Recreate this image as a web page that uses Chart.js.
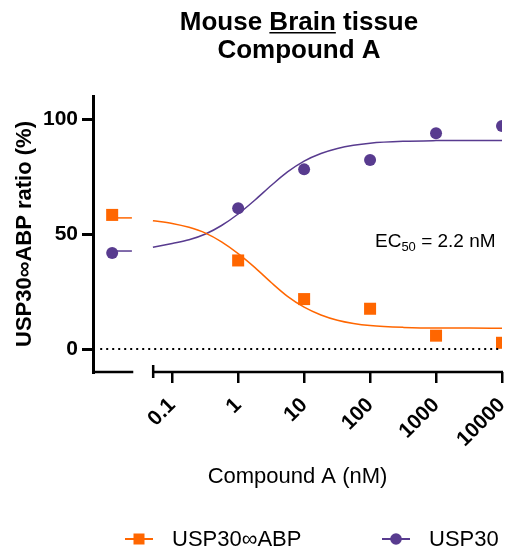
<!DOCTYPE html>
<html>
<head>
<meta charset="utf-8">
<script src="https://cdn.jsdelivr.net/npm/chart.js@4"></script>
<style>
body { margin: 0; background: #fff; }
#wrap { width: 512px; height: 547px; }
</style>
</head>
<body>
<div id="wrap"><canvas id="chart" width="512" height="547"></canvas></div>
<script>
// Compound A concentrations (nM) and measured ratios (%)
const concentrations = [1, 10, 100, 1000, 10000];
const abpValues = [38.5, 21.7, 17.5, 5.8, 2.7];
const usp30Values = [61.2, 78.1, 82.2, 93.8, 97.0];

// vehicle control, shown on the separate left piece of the axis
const abpControl = 58.3;
const usp30Control = 41.7;
const abpControlFit = 57.0;
const usp30ControlFit = 42.6;

// fitted curves
const fitConc = [0.051, 0.1, 0.18, 0.32, 0.56, 1, 1.8, 3.2, 5.6, 10, 18, 32, 56, 100, 320, 1000, 3200, 10000];
const abpFit = [55.8, 54.6, 52.9, 50.4, 46.6, 41.5, 35.4, 28.8, 22.9, 18.2, 14.8, 12.5, 11.1, 10.2, 9.4, 9.1, 9.1, 9.0];
const usp30Fit = [44.2, 45.9, 47.5, 50.0, 53.7, 58.7, 64.8, 71.2, 77.0, 81.7, 85.0, 87.2, 88.6, 89.5, 90.3, 90.6, 90.7, 90.7];

const xTicks = [0.1, 1, 10, 100, 1000, 10000];
const yTicks = [0, 50, 100];
const seriesNames = ['USP30\u221EABP', 'USP30'];

const ORANGE = '#ff6600';
const PURPLE = '#583b8f';
const FONT = '"Liberation Sans", Arial, sans-serif';

// where things sit on the log axis
const xMin = 0.0063, xMax = 10000;
const controlAt = 0.0123, controlLineEnd = 0.0245;
const leftPieceEnd = 0.0257, rightPieceStart = 0.0515;
const zeroLineStart = 0.0081;

Chart.defaults.font.family = FONT;
Chart.defaults.color = '#000';

const pairs = (xs, ys) => xs.map((x, i) => ({x: x, y: ys[i]}));

const extras = {
    id: 'extras',
    afterDraw(chart) {
        const ctx = chart.ctx;
        const x = chart.scales.x;
        const area = chart.chartArea;
        ctx.save();

        // broken x axis
        ctx.strokeStyle = '#000';
        ctx.lineWidth = 2.5;
        ctx.beginPath();
        ctx.moveTo(area.left - 1, area.bottom);
        ctx.lineTo(x.getPixelForValue(leftPieceEnd), area.bottom);
        const rs = x.getPixelForValue(rightPieceStart);
        ctx.moveTo(rs, area.bottom);
        ctx.lineTo(area.right + 1, area.bottom);
        ctx.moveTo(rs, area.bottom - 7);
        ctx.lineTo(rs, area.bottom + 6);
        ctx.stroke();

        // title
        ctx.fillStyle = '#000';
        ctx.font = 'bold 26px ' + FONT;
        ctx.textBaseline = 'alphabetic';
        ctx.textAlign = 'left';
        const cx = 299;
        const l1 = 'Mouse Brain tissue';
        const w1 = ctx.measureText(l1).width;
        const s1 = cx - w1 / 2;
        ctx.fillText(l1, s1, 30);
        const pre = ctx.measureText('Mouse ').width;
        const bw = ctx.measureText('Brain').width;
        ctx.fillRect(s1 + pre, 32, bw, 1.5);
        ctx.textAlign = 'center';
        ctx.fillText('Compound A', cx, 58);

        // EC50 note
        ctx.textAlign = 'left';
        ctx.font = '19px ' + FONT;
        let ex = 375;
        ctx.fillText('EC', ex, 247);
        ex += ctx.measureText('EC').width;
        ctx.font = '13px ' + FONT;
        ctx.fillText('50', ex, 251);
        ex += ctx.measureText('50').width;
        ctx.font = '19px ' + FONT;
        ctx.fillText(' = 2.2 nM', ex, 247);

        // legend
        const ly = 539;
        ctx.font = '22px ' + FONT;
        ctx.textBaseline = 'middle';
        const items = [
            {name: seriesNames[0], color: ORANGE, shape: 'rect', x: 125},
            {name: seriesNames[1], color: PURPLE, shape: 'circle', x: 382}
        ];
        items.forEach(it => {
            ctx.strokeStyle = it.color;
            ctx.fillStyle = it.color;
            ctx.lineWidth = 2;
            ctx.beginPath();
            ctx.moveTo(it.x, ly);
            ctx.lineTo(it.x + 28, ly);
            ctx.stroke();
            if (it.shape === 'rect') {
                ctx.fillRect(it.x + 14 - 5.5, ly - 5.5, 11, 11);
            } else {
                ctx.beginPath();
                ctx.arc(it.x + 14, ly, 5.8, 0, Math.PI * 2);
                ctx.fill();
            }
            ctx.fillStyle = '#000';
            ctx.fillText(it.name, it.x + 47, ly + 1);
        });
        ctx.restore();
    }
};

new Chart(document.getElementById('chart'), {
    type: 'scatter',
    data: {
        datasets: [
            {
                type: 'line',
                data: [{x: zeroLineStart, y: 0}, {x: xMax, y: 0}],
                borderColor: '#000',
                borderWidth: 2,
                borderDash: [2, 4],
                pointRadius: 0
            },
            {
                type: 'line',
                data: pairs(fitConc, abpFit),
                borderColor: ORANGE,
                borderWidth: 1.5,
                pointRadius: 0,
                cubicInterpolationMode: 'monotone'
            },
            {
                type: 'line',
                data: pairs(fitConc, usp30Fit),
                borderColor: PURPLE,
                borderWidth: 1.5,
                pointRadius: 0,
                cubicInterpolationMode: 'monotone'
            },
            {
                type: 'line',
                data: [{x: controlAt, y: abpControlFit}, {x: controlLineEnd, y: abpControlFit}],
                borderColor: ORANGE,
                borderWidth: 1.5,
                pointRadius: 0
            },
            {
                type: 'line',
                data: [{x: controlAt, y: usp30ControlFit}, {x: controlLineEnd, y: usp30ControlFit}],
                borderColor: PURPLE,
                borderWidth: 1.5,
                pointRadius: 0
            },
            {
                label: seriesNames[0],
                data: [{x: controlAt, y: abpControl}].concat(pairs(concentrations, abpValues)),
                pointStyle: 'rect',
                pointRadius: 8.5,
                backgroundColor: ORANGE,
                borderWidth: 0
            },
            {
                label: seriesNames[1],
                data: [{x: controlAt, y: usp30Control}].concat(pairs(concentrations, usp30Values)),
                pointStyle: 'circle',
                pointRadius: 6,
                backgroundColor: PURPLE,
                borderWidth: 0
            }
        ]
    },
    options: {
        responsive: false,
        animation: false,
        layout: {padding: {left: 0, right: 10, top: 96, bottom: 0}},
        plugins: {
            legend: {display: false},
            title: {display: false},
            tooltip: {enabled: false}
        },
        scales: {
            x: {
                type: 'logarithmic',
                min: xMin,
                max: xMax,
                afterBuildTicks: axis => { axis.ticks = xTicks.map(v => ({value: v})); },
                afterFit: axis => { axis.height = 175; axis.paddingLeft = 0; axis.paddingRight = 0; },
                border: {display: false},
                grid: {
                    drawOnChartArea: false,
                    drawTicks: true,
                    tickLength: 11,
                    lineWidth: 2.5,
                    color: '#000'
                },
                ticks: {
                    autoSkip: false,
                    minRotation: 45,
                    maxRotation: 45,
                    padding: 10,
                    font: {size: 21, weight: 'bold'},
                    callback: v => String(v)
                },
                title: {
                    display: true,
                    text: 'Compound A (nM)',
                    font: {size: 22},
                    padding: {top: 0, bottom: 57}
                }
            },
            y: {
                min: -10,
                max: 110,
                afterBuildTicks: axis => { axis.ticks = yTicks.map(v => ({value: v})); },
                afterFit: axis => { axis.width = 93; axis.paddingTop = 0; axis.paddingBottom = 0; },
                border: {display: true, color: '#000', width: 3},
                grid: {
                    drawOnChartArea: false,
                    drawTicks: true,
                    tickLength: 11,
                    lineWidth: 3,
                    color: '#000'
                },
                ticks: {
                    padding: 4,
                    font: {size: 21, weight: 'bold'}
                },
                title: {
                    display: true,
                    text: 'USP30\u221EABP ratio (%)',
                    font: {size: 22, weight: 'bold'},
                    padding: {top: 12, bottom: 0}
                }
            }
        }
    },
    plugins: [extras]
});
</script>
</body>
</html>
